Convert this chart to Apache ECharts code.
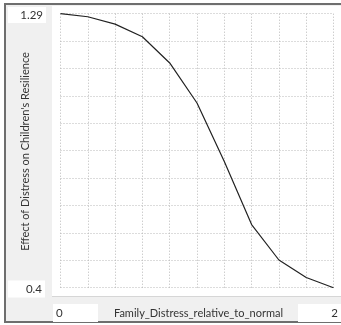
<!DOCTYPE html>
<html>
<head>
<meta charset="utf-8">
<script src="https://cdn.jsdelivr.net/npm/echarts@6/dist/echarts.min.js"></script>
<style>html,body{margin:0;padding:0;background:#fff}#c{width:341px;height:325px}</style>
</head>
<body>
<div id="c"></div>
<script>
const xValues = [0, 0.2, 0.4, 0.6, 0.8, 1.0, 1.2, 1.4, 1.6, 1.8, 2.0];
const yValues = [1.29, 1.28, 1.256, 1.215, 1.13, 1.0, 0.81, 0.605, 0.49, 0.433, 0.4];
const yMin = 0.4, yMax = 1.29;
const xMin = 0, xMax = 2;
const yTitle = "Effect of Distress on Children's Resilience";
const xTitle = "Family_Distress_relative_to_normal";

const FONT = 'Lato, "Noto Sans", sans-serif';
const chart = echarts.init(document.getElementById('c'), null, {renderer: 'canvas'});
const gridLine = {show: true, lineStyle: {type: [1, 2], color: '#b8b8b8', width: 1}};
chart.setOption({
  animation: false,
  backgroundColor: '#fff',
  graphic: [
    {type: 'rect', z: -10, shape: {x: 5, y: 4, width: 340, height: 318}, style: {fill: '#f0f0f0', stroke: '#6e6e6e', lineWidth: 2}},
    {type: 'rect', z: -9, shape: {x: 52, y: 6, width: 290, height: 290.5}, style: {fill: '#ffffff'}},
    {type: 'line', z: -8, shape: {x1: 52, y1: 296.5, x2: 341, y2: 296.5}, style: {stroke: '#d6d6d6', lineWidth: 1}},
    {type: 'rect', z: -8, shape: {x: 8, y: 7, width: 38, height: 16}, style: {fill: '#ffffff'}},
    {type: 'text', style: {x: 43, y: 15.5, text: String(yMax), align: 'right', verticalAlign: 'middle', font: '11.5px ' + FONT, fill: '#333'}},
    {type: 'rect', z: -8, shape: {x: 8, y: 280.5, width: 37, height: 17}, style: {fill: '#ffffff'}},
    {type: 'text', style: {x: 42, y: 289, text: String(yMin), align: 'right', verticalAlign: 'middle', font: '11.5px ' + FONT, fill: '#333'}},
    {type: 'rect', z: -8, shape: {x: 53, y: 304, width: 45, height: 18}, style: {fill: '#ffffff'}},
    {type: 'text', style: {x: 56, y: 313.5, text: String(xMin), align: 'left', verticalAlign: 'middle', font: '11.5px ' + FONT, fill: '#333'}},
    {type: 'rect', z: -8, shape: {x: 298, y: 304, width: 45, height: 18}, style: {fill: '#ffffff'}},
    {type: 'text', style: {x: 338, y: 313.5, text: String(xMax), align: 'right', verticalAlign: 'middle', font: '11.5px ' + FONT, fill: '#333'}},
    {type: 'text', style: {x: 198.5, y: 313.5, text: xTitle, align: 'center', verticalAlign: 'middle', font: '11px ' + FONT, fill: '#333'}},
    {type: 'text', x: 25, y: 151.5, rotation: Math.PI / 2, style: {x: 0, y: 0, text: yTitle, align: 'center', verticalAlign: 'middle', font: '11px ' + FONT, fill: '#333'}}
  ],
  grid: {left: 60.5, top: 13.7, width: 273, height: 274, containLabel: false},
  xAxis: {
    type: 'value', min: xMin, max: xMax, interval: 0.2,
    axisLine: {show: false}, axisTick: {show: false}, axisLabel: {show: false},
    splitLine: gridLine
  },
  yAxis: [
    {type: 'value', min: yMin, max: yMax, show: true,
     axisLine: {show: false}, axisTick: {show: false}, axisLabel: {show: false}, splitLine: {show: false}},
    {type: 'value', min: 0, max: 10, interval: 1, position: 'left',
     axisLine: {show: false}, axisTick: {show: false}, axisLabel: {show: false}, splitLine: gridLine}
  ],
  series: [{
    type: 'line', yAxisIndex: 0,
    data: xValues.map((x, i) => [x, yValues[i]]),
    showSymbol: false, symbol: 'none',
    lineStyle: {color: '#222', width: 1.2}
  }]
});
</script>
</body>
</html>
